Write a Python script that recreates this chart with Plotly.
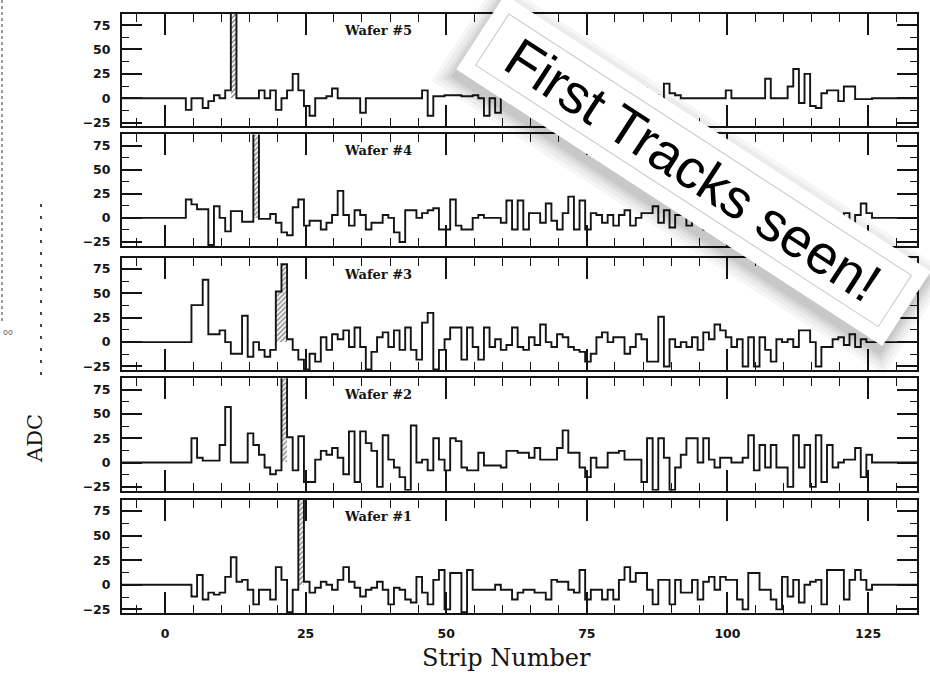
import plotly.graph_objects as go

# ---------------- data ----------------
STRIPS = list(range(128))
WAFER_NAMES = ["Wafer #5", "Wafer #4", "Wafer #3", "Wafer #2", "Wafer #1"]

ADC_W5 = [0, 0, 0, 0, -12, 0, 0, -10, -3, 3,
          0, 8, 100, 0, 0, 0, 0, 8, 0, 8,
          -12, 0, 8, 25, 8, -8, -18, 0, 0, 2,
          10, 0, 0, 0, 0, -15, 0, 0, 0, 0,
          0, 0, 0, 0, 0, 0, 8, -18, 2, 2,
          3, 3, 3, 2, 2, 3, 0, -18, 0, -15,
          2, 0, 5, -3, 0, 8, 0, -5, 3, 0,
          0, 4, -6, 0, 6, 0, 0, -8, 3, 0,
          5, 0, -4, 0, 6, 10, 0, 3, 0, 15,
          5, 3, 0, 0, 0, 0, 0, 0, 0, 0,
          8, 0, 0, 0, 0, 0, 0, 20, 0, 0,
          0, 12, 30, -5, 25, -8, -10, 5, 8, 8,
          -3, 12, 12, -1, -1, -1, 0, 0]

ADC_W4 = [0, 0, 0, 0, 19, 14, 9, 9, -28, 12,
          0, -14, 7, 7, -4, -4, 100, -1, -1, 4,
          -5, -15, -18, 11, 19, -8, -3, -3, -12, -5,
          3, 28, 3, -8, 8, 3, -12, -5, -5, 3,
          0, -15, -25, 8, 8, 0, 5, 8, 10, -12,
          -12, 19, -8, -12, -12, 0, 3, 0, 0, 0,
          -5, 18, -12, 18, -12, 5, 5, -5, 15, -3,
          -12, 5, 22, -12, 18, -12, 5, 3, -5, 3,
          -8, 3, 8, -8, 0, 5, 5, 12, -5, 8,
          -10, 3, 15, -8, 0, 6, -12, 4, 10, -5,
          3, 12, -10, 0, 5, -6, 8, 0, -15, 6,
          0, 10, -5, 3, -8, 4, 0, 12, -3, 2,
          0, 5, -5, 3, 15, 5, 0, 0]

ADC_W3 = [0, 0, 0, 0, 0, 38, 38, 64, 8, 8,
          12, 0, -12, -12, 27, -15, 0, -8, -15, -8,
          52, 80, 3, -8, -18, -28, -12, -20, 5, -8,
          8, 3, 12, -5, 15, -5, -28, -10, 5, 10,
          -5, 12, -8, 15, -8, -18, 20, 30, -28, -8,
          3, 15, 15, -18, 15, -5, -18, 15, -5, 3,
          -8, -3, 15, -5, -8, 5, -3, 18, 0, -5,
          8, 5, -5, -8, -10, -20, -12, 5, 10, 0,
          5, 5, -12, -5, 8, 3, -20, -20, 26, -25,
          3, -5, 0, -5, 5, -8, 10, 3, 18, 12,
          5, -5, 3, -25, 5, -25, 5, -8, -20, 3,
          0, 3, -5, 12, 12, 0, -25, -5, -5, 3,
          5, -3, 8, -5, 3, 0, 0, 0]

ADC_W2 = [0, 0, 0, 0, 0, 25, 5, 2, 2, 2,
          18, 57, 0, 0, 0, 30, 18, 8, -5, -12,
          -8, 100, 26, -8, 27, -20, -20, 3, 12, 8,
          15, 5, -12, 32, -20, 32, 20, 12, -25, 28,
          3, -5, -15, -28, 38, 0, 3, -8, 25, 3,
          -8, 25, 22, -5, -8, -8, 10, -3, -3, -3,
          -5, 12, 12, 10, 10, 5, 15, 3, 3, 3,
          15, 33, 10, 10, -5, -15, 5, -5, -5, 10,
          10, 12, 3, 3, 3, -20, 25, -28, 25, 5,
          -28, -5, 8, 25, 25, 0, 25, 3, -5, 5,
          5, 0, 0, 5, 28, -8, 18, -5, 18, -5,
          -5, -25, 28, -5, 18, -25, 28, -20, 18, -5,
          0, 3, 3, 15, -15, 8, 0, 0]

ADC_W1 = [0, 0, 0, 0, 0, -12, 10, -15, -8, -10,
          -8, 8, 28, 3, 5, -5, -20, -5, -5, -15,
          18, 5, -28, -5, 100, 3, -8, -3, 3, 0,
          -5, 5, 18, 3, -3, -12, -5, -3, 3, -5,
          -20, -3, -5, -15, -18, 8, -8, -20, 5, 15,
          -25, 12, 12, -28, 15, -5, -5, -5, -5, 0,
          -5, -5, -15, -8, -5, -5, -8, -8, -15, 5,
          3, 3, -5, -8, 15, -15, -5, -5, -15, -5,
          -15, 5, 18, 3, 12, 12, -5, -20, 5, 5,
          -20, 5, -8, -8, 5, -15, 3, 8, -5, 8,
          5, 5, -15, -25, 12, 12, -5, -5, -15, -25,
          8, -12, 5, -18, 0, 3, 5, -20, 15, 15,
          15, -15, 5, 15, 5, -5, 0, 0]

# strips hit by the track (hatched bins)
TRACK_W5 = [12]
TRACK_W4 = [16]
TRACK_W3 = [20, 21]
TRACK_W2 = [21]
TRACK_W1 = [24]

X_TICKS = [0, 25, 50, 75, 100, 125]
Y_TICKS = [-25, 0, 25, 50, 75]

PANELS = [(WAFER_NAMES[0], ADC_W5, TRACK_W5),
          (WAFER_NAMES[1], ADC_W4, TRACK_W4),
          (WAFER_NAMES[2], ADC_W3, TRACK_W3),
          (WAFER_NAMES[3], ADC_W2, TRACK_W2),
          (WAFER_NAMES[4], ADC_W1, TRACK_W1)]
for _, a, _t in PANELS:
    assert len(a) == len(STRIPS)

# ---------------- layout constants ----------------
W, H = 930, 675
X_RANGE = [-7.65, 133.7]
Y_RANGE = [-29.0, 86.5]
BIN_LO = -0.3            # bin k spans [k-0.3, k+0.7]
PLOT_L, PLOT_R = 122, 917
PANEL_PX = [(14, 127), (135, 247), (259, 372), (380, 493), (502, 616)]
INK = "#141414"

fig = go.Figure()

for i, (name, adc, track) in enumerate(PANELS):
    sfx = "" if i == 0 else str(i + 1)
    xa, ya = "x" + sfx, "y" + sfx
    # hatched track bins
    fig.add_trace(go.Bar(
        x=[k + BIN_LO + 0.5 for k in track], y=[adc[k] for k in track],
        base=0, width=1, xaxis=xa, yaxis=ya, showlegend=False, hoverinfo="skip",
        marker=dict(color="white", line=dict(width=0),
                    pattern=dict(shape="/", fgcolor=INK, bgcolor="white",
                                 size=3.5, solidity=0.45))))
    # step histogram outline
    xs = [X_RANGE[0]] + [k + BIN_LO for k in STRIPS] + [STRIPS[-1] + BIN_LO + 1, X_RANGE[1]]
    ys = [0] + list(adc) + [0, 0]
    fig.add_trace(go.Scatter(
        x=xs, y=ys, mode="lines", xaxis=xa, yaxis=ya, showlegend=False,
        line=dict(shape="hv", color=INK, width=1.9), hoverinfo="skip"))

    top, bot = PANEL_PX[i]
    fig.layout["xaxis" + sfx] = dict(
        domain=[PLOT_L / W, PLOT_R / W], range=X_RANGE, anchor=ya,
        showline=True, linecolor=INK, linewidth=2, mirror="allticks",
        ticks="inside", tickvals=X_TICKS, ticklen=21, tickwidth=1.6, tickcolor=INK,
        minor=dict(ticks="inside", dtick=5, tick0=0, ticklen=8, tickwidth=1.4,
                   tickcolor=INK, showgrid=False),
        showgrid=False, zeroline=False, showticklabels=(i == 4),
        ticklabelstandoff=8,
        tickfont=dict(family="DejaVu Sans", size=12.5, color=INK, weight="bold"))
    fig.layout["yaxis" + sfx] = dict(
        domain=[1 - bot / H, 1 - top / H], range=Y_RANGE, anchor=xa,
        showline=True, linecolor=INK, linewidth=2, mirror="allticks",
        ticks="inside", tickvals=Y_TICKS, ticklen=20, tickwidth=1.6, tickcolor=INK,
        minor=dict(ticks="inside", dtick=12.5, tick0=0, ticklen=7, tickwidth=1.4,
                   tickcolor=INK, showgrid=False),
        showgrid=False, zeroline=False, ticklabelstandoff=7,
        tickfont=dict(family="DejaVu Sans", size=12.5, color=INK, weight="bold"))
    fig.add_annotation(text=name, xref=xa + " domain", yref=ya + " domain",
                       x=0.322, y=0.855, showarrow=False,
                       xanchor="center", yanchor="middle",
                       font=dict(family="DejaVu Serif", size=13, color=INK, weight="bold"))

# axis titles
fig.add_annotation(text="ADC", xref="paper", yref="paper", x=35 / W, y=1 - 441 / H,
                   showarrow=False, textangle=-90, xanchor="center", yanchor="middle",
                   font=dict(family="DejaVu Serif", size=21, color=INK))
fig.add_annotation(text="Strip Number", xref="paper", yref="paper", x=506 / W, y=1 - 661 / H,
                   showarrow=False, xanchor="center", yanchor="middle",
                   font=dict(family="DejaVu Serif", size=24, color=INK))

# remnants of the neighbouring scanned figure at the far left
fig.add_shape(type="line", xref="paper", yref="paper", x0=2 / W, x1=2 / W,
              y0=1.0, y1=1 - 325 / H, line=dict(color="#777", width=1.5, dash="dot"))
fig.add_shape(type="line", xref="paper", yref="paper", x0=41 / W, x1=41 / W,
              y0=1 - 205 / H, y1=1 - 378 / H, line=dict(color="#444", width=2, dash="3px,9px"))
fig.add_annotation(text="oo", xref="paper", yref="paper", x=1 / W, y=1 - 334 / H,
                   showarrow=False, xanchor="left", yanchor="middle",
                   font=dict(family="DejaVu Sans", size=8, color="#666"))

# "First Tracks seen!" card with a soft drop shadow
CARD_X, CARD_Y = 693 / W, 1 - 171 / H
CARD_W, CARD_H, ANGLE = 507, 88, 33
LABEL = "First Tracks seen!"
for g, a in [(16, 0.035), (12, 0.04), (8, 0.045), (5, 0.05), (2, 0.06)]:
    fig.add_annotation(text=LABEL, xref="paper", yref="paper", x=CARD_X, y=CARD_Y,
                       showarrow=False, textangle=ANGLE, xanchor="center", yanchor="middle",
                       xshift=-3, yshift=-7,
                       width=CARD_W + 2 * g, height=CARD_H + 2 * g, borderpad=0,
                       bgcolor=f"rgba(0,0,0,{a})",
                       font=dict(family="Liberation Sans", size=55, color="rgba(0,0,0,0)"))
fig.add_annotation(text=LABEL, xref="paper", yref="paper", x=CARD_X, y=CARD_Y,
                   showarrow=False, textangle=ANGLE, xanchor="center", yanchor="middle",
                   width=CARD_W, height=CARD_H, borderpad=0, bgcolor="white",
                   font=dict(family="Liberation Sans", size=55, color="rgba(0,0,0,0)"))
fig.add_annotation(text=LABEL, xref="paper", yref="paper", x=CARD_X, y=CARD_Y,
                   showarrow=False, textangle=ANGLE, xanchor="center", yanchor="middle",
                   width=CARD_W - 28, height=CARD_H - 28, borderpad=0,
                   bgcolor="rgba(0,0,0,0)", bordercolor="#c8c8c8", borderwidth=1,
                   font=dict(family="Liberation Sans", size=55, color="rgba(0,0,0,0)"))
fig.add_annotation(text=LABEL, xref="paper", yref="paper", x=CARD_X, y=CARD_Y,
                   showarrow=False, textangle=ANGLE, xanchor="center", yanchor="middle",
                   font=dict(family="Liberation Sans", size=55, color="black"))

fig.update_layout(width=W, height=H, margin=dict(l=0, r=0, t=0, b=0),
                  paper_bgcolor="white", plot_bgcolor="white",
                  barmode="overlay", bargap=0, showlegend=False)

fig.write_html("out.html")
